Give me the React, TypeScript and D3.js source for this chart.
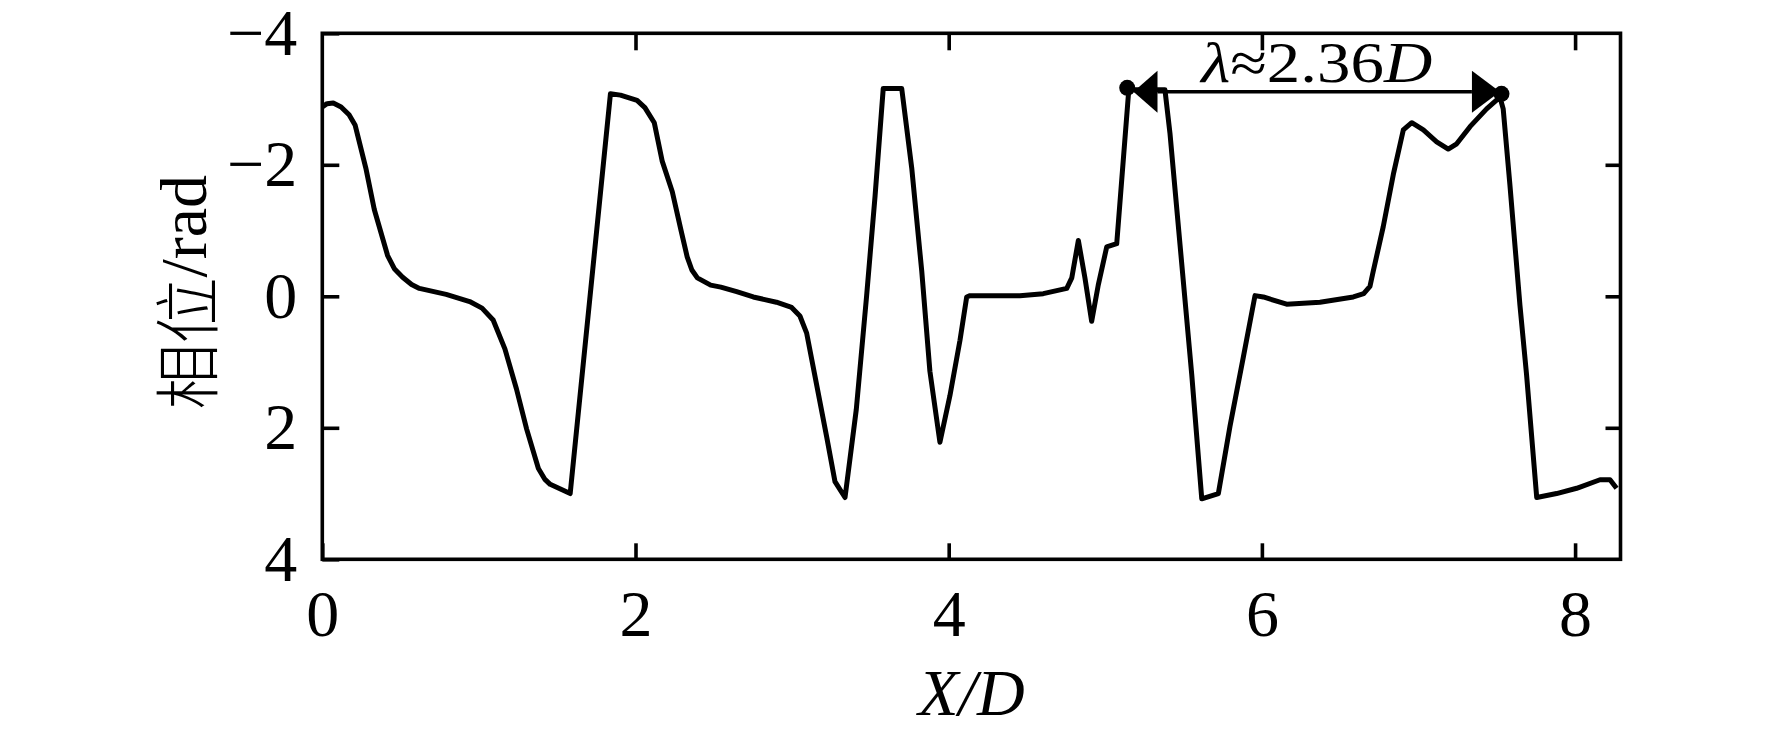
import {useEffect, useRef} from 'react';
import * as d3 from 'd3';

// phase along the wake
const xPos = [
  0.0, 0.03, 0.07, 0.12, 0.171, 0.21, 0.278, 0.332, 0.417, 0.46, 0.513, 0.57, 0.62, 0.791, 0.941,
  1.02, 1.091, 1.166, 1.24, 1.305, 1.38, 1.42, 1.455, 1.583, 1.84, 1.904, 2.01, 2.06, 2.12, 2.17,
  2.235, 2.29, 2.33, 2.36, 2.395, 2.48, 2.545, 2.646, 2.752, 2.9, 2.997, 3.05, 3.093, 3.157, 3.221,
  3.274, 3.338, 3.41, 3.476, 3.53, 3.582, 3.7, 3.764, 3.828, 3.88, 3.944, 4.008, 4.072, 4.115,
  4.136, 4.455, 4.604, 4.754, 4.786, 4.828, 4.87, 4.913, 4.955, 5.009, 5.073, 5.15, 5.381, 5.413,
  5.552, 5.616, 5.722, 5.796, 5.881, 5.956, 6.009, 6.158, 6.371, 6.584, 6.65, 6.69, 6.711, 6.775,
  6.839, 6.903, 6.957, 7.031, 7.116, 7.19, 7.244, 7.329, 7.435, 7.52, 7.541, 7.584, 7.648, 7.69,
  7.755, 7.882, 8.01, 8.159, 8.223, 8.265,
];
const phase = [
  -2.88, -2.93, -2.94, -2.88, -2.76, -2.6, -1.95, -1.32, -0.62, -0.42, -0.29, -0.18, -0.12, -0.03,
  0.08, 0.18, 0.36, 0.8, 1.41, 2.02, 2.62, 2.78, 2.86, 3.0, -3.08, -3.06, -2.98, -2.87, -2.64,
  -2.06, -1.59, -1.01, -0.6, -0.4, -0.28, -0.17, -0.14, -0.07, 0.01, 0.09, 0.17, 0.3, 0.56, 1.35,
  2.14, 2.82, 3.06, 1.72, -0.01, -1.53, -3.16, -3.16, -1.95, -0.38, 1.14, 2.22, 1.51, 0.67, 0.01,
  -0.01, -0.01, -0.04, -0.12, -0.28, -0.85, -0.28, 0.38, -0.17, -0.75, -0.8, -3.14, -3.14, -2.48,
  1.19, 3.08, 3.0, 1.98, 0.93, -0.01, 0.01, 0.12, 0.09, 0.01, -0.04, -0.15, -0.38, -1.06,
  -1.85, -2.53, -2.64, -2.53, -2.35, -2.24, -2.32, -2.58, -2.85, -3.03, -2.85, -1.69, 0.14, 1.19,
  3.06, 3.0, 2.92, 2.79, 2.79, 2.92,
];

const xTicks = [0, 2, 4, 6, 8];
const yTicks = [-4, -2, 0, 2, 4];
const topTicks = [2, 4, 6, 8];
const rightTicks = [-2, 0, 2];

// wavelength marker
const dotX = [5.14, 7.53];
const dotY = [-3.17, -3.08];
const arrowTips = [5.18, 7.52];
const arrowLevel = -3.11;
const labelParts = ['λ', '≈2.36', 'D'];
const labelItalic = [true, false, true];

const serif = '"Liberation Serif", "Times New Roman", serif';

export default function App() {
  const ref = useRef<SVGSVGElement>(null);
  useEffect(() => {
    if (!ref.current) return;
    const svg = d3.select(ref.current);
    svg.selectAll('*').remove();

    const x = d3.scaleLinear().domain([0, 8.29]).range([322.3, 1620.5]);
    const y = d3.scaleLinear().domain([-4, 4]).range([33.3, 559.3]);

    svg.append('rect').attr('width', 1772).attr('height', 736).attr('fill', 'white');

    // axes
    const gx = svg.append('g')
      .attr('transform', `translate(0,${y(4)})`)
      .call(d3.axisBottom(x).tickValues(xTicks).tickSize(-16).tickSizeOuter(0)
        .tickPadding(30).tickFormat(d3.format('d')));
    const gy = svg.append('g')
      .attr('transform', `translate(${x(0)},0)`)
      .call(d3.axisLeft(y).tickValues(yTicks).tickSize(-17).tickSizeOuter(0)
        .tickPadding(25).tickFormat(d3.format('d')));
    const gt = svg.append('g')
      .attr('transform', `translate(0,${y(-4)})`)
      .call(d3.axisTop(x).tickValues(topTicks).tickSize(-17).tickSizeOuter(0).tickFormat(() => ''));
    const gr = svg.append('g')
      .attr('transform', `translate(${x(8.29)},0)`)
      .call(d3.axisRight(y).tickValues(rightTicks).tickSize(-15).tickSizeOuter(0).tickFormat(() => ''));
    [gx, gy, gt, gr].forEach(g => {
      g.select('.domain').remove();
      g.attr('font-size', 66).attr('font-family', serif);
      g.selectAll('line').attr('stroke', '#000').attr('stroke-width', 3.6);
      g.selectAll('text').attr('fill', '#000');
    });

    // frame
    svg.append('rect')
      .attr('x', x(0)).attr('y', y(-4))
      .attr('width', x(8.29) - x(0)).attr('height', y(4) - y(-4))
      .attr('fill', 'none').attr('stroke', '#000').attr('stroke-width', 3.6);

    // curve
    const line = d3.line<number>()
      .x((_, i) => x(xPos[i]))
      .y(d => y(d));
    svg.append('path')
      .attr('d', line(phase))
      .attr('fill', 'none')
      .attr('stroke', '#000')
      .attr('stroke-width', 5)
      .attr('stroke-linejoin', 'round');

    // wavelength arrow
    const ay = y(arrowLevel);
    const headLen = [24, 28];
    const headHalf = 21;
    svg.append('line')
      .attr('x1', x(arrowTips[0]) + headLen[0]).attr('x2', x(arrowTips[1]) - headLen[1])
      .attr('y1', ay).attr('y2', ay)
      .attr('stroke', '#000').attr('stroke-width', 3.4);
    arrowTips.forEach((t, i) => {
      const tip = x(t);
      const dir = i === 0 ? 1 : -1;
      svg.append('polygon')
        .attr('points', [[tip, ay], [tip + dir * headLen[i], ay - headHalf], [tip + dir * headLen[i], ay + headHalf]]
          .map(p => p.join(',')).join(' '))
        .attr('fill', '#000');
    });
    dotX.forEach((d, i) => {
      svg.append('circle').attr('cx', x(d)).attr('cy', y(dotY[i])).attr('r', 8).attr('fill', '#000');
    });

    const label = svg.append('text')
      .attr('x', x(6.35)).attr('y', 81.7)
      .attr('text-anchor', 'middle')
      .attr('font-family', serif)
      .attr('font-size', 57)
      .attr('textLength', 231)
      .attr('lengthAdjust', 'spacingAndGlyphs');
    labelParts.forEach((p, i) => {
      label.append('tspan').attr('font-style', labelItalic[i] ? 'italic' : 'normal').text(p);
    });

    // axis titles
    const xt = svg.append('text')
      .attr('x', (x(0) + x(8.29)) / 2).attr('y', 715)
      .attr('text-anchor', 'middle')
      .attr('font-family', serif)
      .attr('font-size', 66)
      .attr('font-style', 'italic');
    xt.append('tspan').text('X');
    xt.append('tspan').text('/');
    xt.append('tspan').text('D');

    const yt = svg.append('text')
      .attr('transform', `translate(183,${y(0) - 4}) rotate(-90)`)
      .attr('text-anchor', 'middle')
      .attr('dominant-baseline', 'central')
      .attr('font-size', 66);
    yt.append('tspan').attr('font-family', '"Noto Sans CJK SC"').attr('font-weight', 300).text('相位');
    yt.append('tspan').attr('font-family', serif).text('/rad');
  }, []);

  return <svg
    ref={ref}
    width={1772}
    height={736}
    style={{position: 'absolute', left: 0, top: 0, display: 'block'}}
  />;
}
